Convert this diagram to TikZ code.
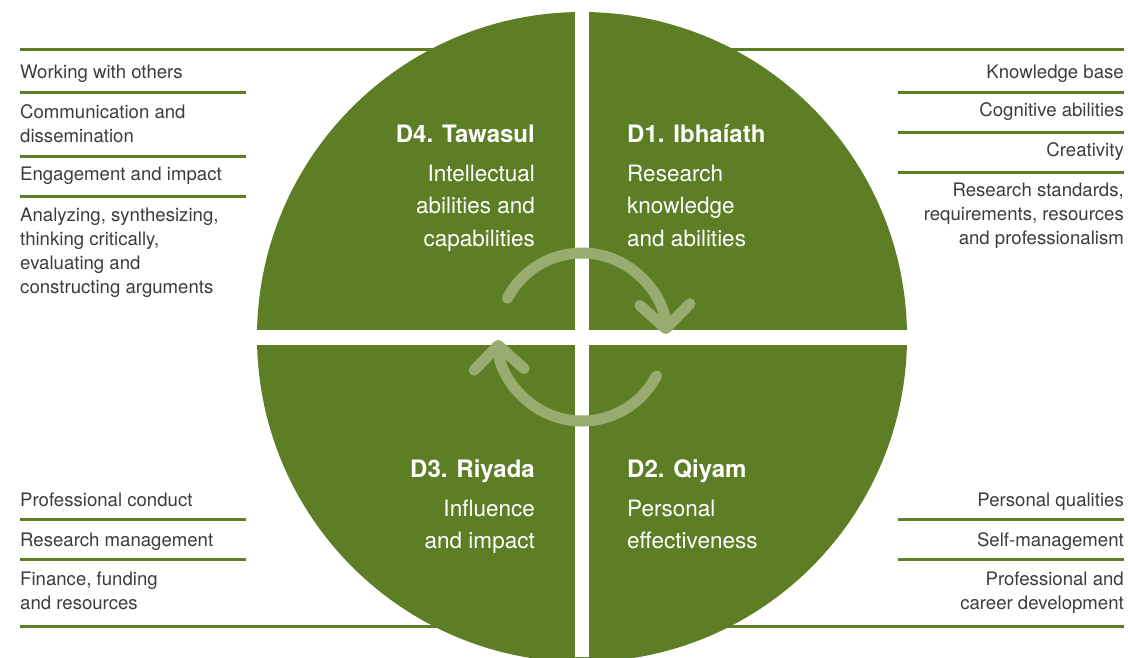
\documentclass[tikz,border=0pt]{standalone}
\usepackage{fontspec}
\setmainfont{TeX Gyre Heros}
\usetikzlibrary{arrows.meta}
\definecolor{leafgreen}{HTML}{5E7E26}
\definecolor{palegreen}{HTML}{98AC70}
\definecolor{itemgray}{HTML}{3C3C3C}

\tikzset{
  item/.style={inner sep=0pt, text=itemgray, font=\fontsize{18.6}{24}\selectfont},
  rule/.style={leafgreen, line width=3pt},
  dimhead/.style={inner sep=0pt, text=white, font=\fontsize{24}{28}\selectfont\bfseries},
  dimtext/.style={inner sep=0pt, text=white, font=\fontsize{22.5}{32.5}\selectfont},
  cyclearc/.style={palegreen, line width=11pt, line cap=round,
    -{Straight Barb[length=24pt, width=50pt, round]}}
}

\begin{document}
\begin{tikzpicture}[x=1pt, y=-1pt]
    \useasboundingbox (0,0) rectangle (1128,657);
    \coordinate (hub) at (582,337);
    % Rules between the items
    \draw[rule] (20,49) -- (1124,49);
    \draw[rule] (20,626) -- (1124,626);
    \foreach \y in {92,156,196,519,559}
        \draw[rule] (20,\y) -- (246,\y);
    \foreach \y in {92,132,172,519,559}
        \draw[rule] (898,\y) -- (1124,\y);
    % Items on the left (multi-line ones sit on their last baseline)
    \node[item, anchor=base west] (others) at (20,78.5) {Working with others};
    \node[item, anchor=base west, align=left] (comms) at (20,142.5) {Communication and\\dissemination};
    \node[item, anchor=base west] (engage) at (20,180.5) {Engagement and impact};
    \node[item, anchor=base west, align=left] (analyze) at (20,293.5)
        {Analyzing, synthesizing,\\thinking critically,\\evaluating and\\constructing arguments};
    \node[item, anchor=base west] (conduct) at (20,506.5) {Professional conduct};
    \node[item, anchor=base west] (resmgmt) at (20,546.5) {Research management};
    \node[item, anchor=base west, align=left] (finance) at (20,609) {Finance, funding\\and resources};
    % Items on the right
    \node[item, anchor=base east] (knowbase) at (1124,78.5) {Knowledge base};
    \node[item, anchor=base east] (cognitive) at (1124,116.5) {Cognitive abilities};
    \node[item, anchor=base east] (creativity) at (1124,156.5) {Creativity};
    \node[item, anchor=base east, align=right] (standards) at (1124,244.5)
        {Research standards,\\requirements, resources\\and professionalism};
    \node[item, anchor=base east] (qualities) at (1124,506.5) {Personal qualities};
    \node[item, anchor=base east] (selfmgmt) at (1124,546.5) {Self-management};
    \node[item, anchor=base east, align=right] (career) at (1124,609.5) {Professional and\\career development};
    % The four quarters
    \fill[leafgreen] (hub) circle[radius=325];
    \fill[white] (575,0) rectangle (589,657);
    \fill[white] (250,330) rectangle (914,345);
    % Cycle arrows
    \draw[cyclearc] (hub) ++(207.5:84) arc[start angle=207.5, end angle=358, radius=84];
    \draw[cyclearc] (hub) ++(27.5:84) arc[start angle=27.5, end angle=178, radius=84];
    % Quarter titles
    \node[dimhead, anchor=base east] (d4head) at (535,142) {D4. Tawasul};
    \node[dimtext, anchor=base east, align=right] (d4text) at (535,246) {Intellectual\\abilities and\\capabilities};
    \node[dimhead, anchor=base west] (d1head) at (627,142) {D1. Ibhaíath};
    \node[dimtext, anchor=base west, align=left] (d1text) at (627,246) {Research\\knowledge\\and abilities};
    \node[dimhead, anchor=base east] (d3head) at (535,477) {D3. Riyada};
    \node[dimtext, anchor=base east, align=right] (d3text) at (535,548.5) {Influence\\and impact};
    \node[dimhead, anchor=base west] (d2head) at (627,477) {D2. Qiyam};
    \node[dimtext, anchor=base west, align=left] (d2text) at (627,548.5) {Personal\\effectiveness};
\end{tikzpicture}
\end{document}
